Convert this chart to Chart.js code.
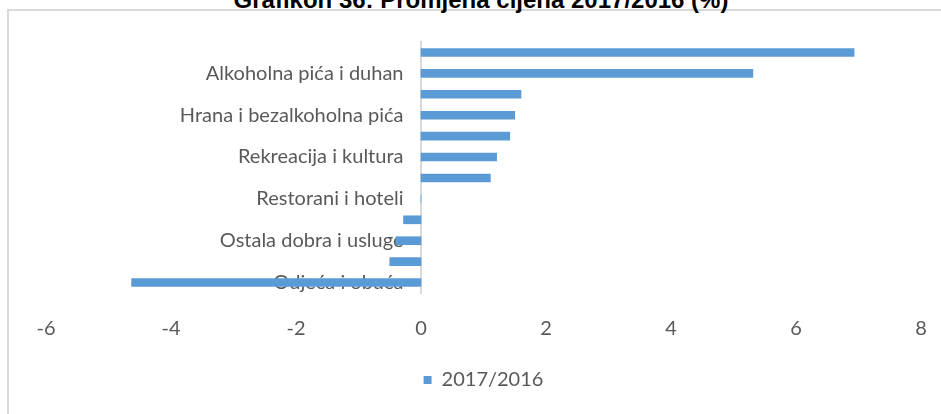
<!DOCTYPE html>
<html>
<head>
<meta charset="utf-8">
<script src="https://cdn.jsdelivr.net/npm/chart.js@4/dist/chart.umd.min.js"></script>
<style>
  html, body { margin: 0; padding: 0; background: #fff; width: 941px; height: 414px; overflow: hidden; }
  #frame { position: absolute; left: 7px; top: 9px; width: 1000px; height: 500px; border: 2px solid #d9d9d9; box-sizing: border-box; }
  #title { position: absolute; left: 0; width: 962px; top: -12px; text-align: center; font: bold 24px "Liberation Sans", Arial, sans-serif; line-height: 24px; color: #000; white-space: nowrap; }
  #wrap { position: absolute; left: 0; top: 0; width: 941px; height: 414px; }
</style>
</head>
<body>
<div id="frame"></div>
<div id="title">Grafikon 36: Promjena cijena 2017/2016 (%)</div>
<div id="wrap"><canvas id="c" width="941" height="414"></canvas></div>
<script>
const categories = [
  "Prevoz",
  "Alkoholna pića i duhan",
  "Obrazovanje",
  "Hrana i bezalkoholna pića",
  "Stanovanje, voda, struja i gorivo",
  "Rekreacija i kultura",
  "Zdravstvo",
  "Restorani i hoteli",
  "Namještaj i oprema za domaćinstvo",
  "Ostala dobra i usluge",
  "Komunikacije",
  "Odjeća i obuća"
];
const seriesName = "2017/2016";
const values = [6.93, 5.31, 1.6, 1.5, 1.42, 1.21, 1.11, 0, -0.28, -0.4, -0.5, -4.63];
const xTicks = [-6, -4, -2, 0, 2, 4, 6, 8];

const labelFont = { family: "Lato", size: 20, weight: "normal" };
const grey = "#595959";

new Chart(document.getElementById("c"), {
  type: "bar",
  data: {
    labels: categories,
    datasets: [{
      label: seriesName,
      data: values,
      backgroundColor: "#5b9bd5",
      borderWidth: 0,
      barThickness: 8
    }]
  },
  options: {
    indexAxis: "y",
    responsive: false,
    animation: false,
    layout: { padding: { left: 46, right: 20, top: 42, bottom: 14 } },
    scales: {
      x: {
        min: xTicks[0],
        max: xTicks[xTicks.length - 1],
        afterBuildTicks: (s) => { s.ticks = xTicks.map(v => ({ value: v })); },
        afterFit: (s) => { s.height -= 6; s.paddingLeft = 0; s.paddingRight = 0; },
        grid: { display: false, drawTicks: false },
        border: { display: false },
        ticks: { color: grey, font: labelFont, padding: 24, maxRotation: 0 }
      },
      y: {
        position: { x: 0 },
        z: 1,
        afterFit: (s) => { s.paddingLeft = 0; s.paddingRight = 0; s.paddingTop = 0; s.paddingBottom = 0; },
        grid: { display: false, drawTicks: false },
        border: { display: true, color: "#d9d9d9", width: 2 },
        ticks: {
          color: grey,
          font: labelFont,
          autoSkip: false,
          callback: function (v, i) { return i % 2 === 1 ? this.getLabelForValue(v) + "\u2003\u2009" : ""; }
        }
      }
    },
    plugins: {
      legend: {
        position: "bottom",
        labels: { color: grey, font: labelFont, boxWidth: 8, boxHeight: 8, padding: 11 }
      },
      tooltip: { enabled: false },
      title: { display: false }
    }
  }
});
</script>
</body>
</html>
